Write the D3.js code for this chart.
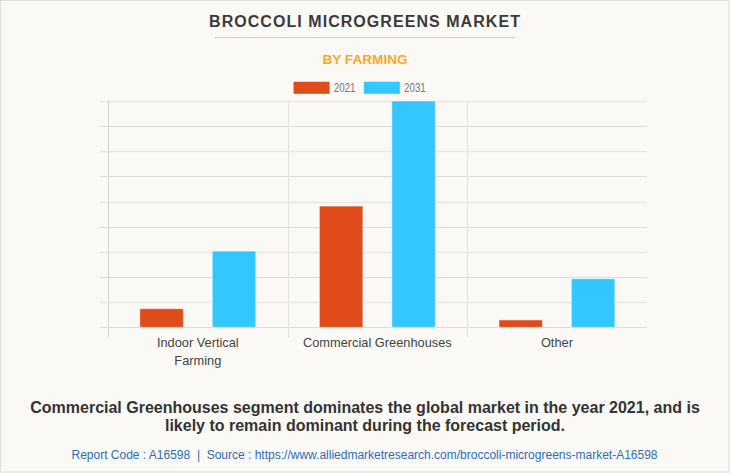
<!DOCTYPE html>
<html>
<head>
<meta charset="utf-8">
<script src="https://cdn.jsdelivr.net/npm/d3@7"></script>
<style>
  html, body { margin: 0; padding: 0; background: #faf9f5; }
  svg { display: block; }
</style>
</head>
<body>
<svg id="chart" width="730" height="473"></svg>
<script>
// ---- data ----
const categories = [["Indoor Vertical", "Farming"], ["Commercial Greenhouses"], ["Other"]];
const categoryKeys = ["Indoor Vertical Farming", "Commercial Greenhouses", "Other"];
const seriesNames = ["2021", "2031"];
const values2021 = [7.4, 48.2, 2.9];
const values2031 = [30.3, 90.0, 19.3];
const yTicks = [0, 10, 20, 30, 40, 50, 60, 70, 80, 90];
const seriesColors = ["#e04b1b", "#33c6ff"];

const titleText = "BROCCOLI MICROGREENS MARKET";
const subtitleText = "BY FARMING";
const footLines = ["Commercial Greenhouses segment dominates the global market in the year 2021, and is",
                   "likely to remain dominant during the forecast period."];
const sourceText = "Report Code : A16598  |  Source : https://www.alliedmarketresearch.com/broccoli-microgreens-market-A16598";

const W = 730, H = 473;
const svg = d3.select("#chart");
const font = "'Liberation Sans', Arial, sans-serif";

// background + border
svg.append("rect").attr("x", 0.5).attr("y", 0.5).attr("width", W - 1.5).attr("height", H - 1.5)
  .attr("fill", "#faf9f5").attr("stroke", "#dedede").attr("stroke-width", 1);

// title
svg.append("text").attr("x", 365).attr("y", 26.7).attr("text-anchor", "middle")
  .attr("font-family", font).attr("font-weight", "bold").attr("font-size", 16)
  .attr("letter-spacing", 1.05).attr("fill", "#3a3a3a").text(titleText);
svg.append("line").attr("x1", 215).attr("x2", 515).attr("y1", 37.5).attr("y2", 37.5)
  .attr("stroke", "#cccccc").attr("stroke-width", 1);
svg.append("text").attr("x", 365).attr("y", 64).attr("text-anchor", "middle")
  .attr("font-family", font).attr("font-weight", "bold").attr("font-size", 13.6)
  .attr("fill", "#f9a825").text(subtitleText);

// legend
const legendX = [293.3, 363.6];
seriesNames.forEach((s, i) => {
  svg.append("rect").attr("x", legendX[i]).attr("y", 81.5).attr("width", 36.5).attr("height", 12.5)
    .attr("fill", seriesColors[i]).attr("stroke", "rgba(255,255,255,0.45)").attr("stroke-width", 1);
  svg.append("text").attr("x", legendX[i] + 40.5).attr("y", 91.8)
    .attr("font-family", font).attr("font-size", 12.5).attr("fill", "#777")
    .attr("textLength", 21.7).attr("lengthAdjust", "spacingAndGlyphs").text(s);
});

// scales
const plot = { left: 108, right: 646.7, top: 101, bottom: 327.3 };
const x0 = d3.scaleBand().domain(categoryKeys).range([plot.left, plot.right]).padding(0);
const x1 = d3.scaleBand().domain(seriesNames).range([0, x0.bandwidth()])
  .paddingInner(0.4).paddingOuter(0.44);
const y = d3.scaleLinear().domain([0, 90]).range([plot.bottom, plot.top]);

// gridlines
const g = svg.append("g");
g.selectAll("line.grid").data(yTicks).join("line").attr("class", "grid")
  .attr("x1", plot.left - 8).attr("x2", plot.right)
  .attr("y1", d => Math.round(y(d)) + 0.5).attr("y2", d => Math.round(y(d)) + 0.5)
  .attr("stroke", (d, i) => i % 2 === 1 ? "#e9e8e4" : "#dcdcdc")
  .attr("stroke-width", (d, i) => i % 2 === 1 ? 1.5 : 1);

// vertical category separators
const seps = categoryKeys.map(k => x0(k));
g.selectAll("line.sep").data(seps).join("line").attr("class", "sep")
  .attr("x1", d => Math.round(d) + 0.5).attr("x2", d => Math.round(d) + 0.5)
  .attr("y1", plot.top).attr("y2", plot.bottom + 10)
  .attr("stroke", (d, i) => i === 0 ? "#d4d4d4" : "#e2e2e0").attr("stroke-width", 1);

// bars
const rows = categoryKeys.map((k, i) => ({ key: k, vals: [values2021[i], values2031[i]] }));
const barG = svg.append("g");
rows.forEach(r => {
  r.vals.forEach((v, j) => {
    barG.append("rect")
      .attr("x", x0(r.key) + x1(seriesNames[j]))
      .attr("y", y(v))
      .attr("width", x1.bandwidth())
      .attr("height", y(0) - y(v))
      .attr("fill", seriesColors[j])
      .attr("stroke", "rgba(255,255,255,0.45)").attr("stroke-width", 1);
  });
});

// category labels
categoryKeys.forEach((k, i) => {
  const t = svg.append("text").attr("text-anchor", "middle")
    .attr("font-family", font).attr("font-size", 12.8).attr("fill", "#444");
  categories[i].forEach((line, li) => {
    t.append("tspan").attr("x", x0(k) + x0.bandwidth() / 2).attr("y", 346.5 + li * 18).text(line);
  });
});

// footer
footLines.forEach((l, i) => {
  svg.append("text").attr("x", 365).attr("y", 412.5 + i * 18.5).attr("text-anchor", "middle")
    .attr("font-family", font).attr("font-weight", "bold").attr("font-size", 16)
    .attr("fill", "#333").text(l);
});
svg.append("text").attr("x", 364.5).attr("y", 458.5).attr("text-anchor", "middle")
  .attr("font-family", font).attr("font-size", 12).attr("fill", "#2f6db5")
  .attr("xml:space", "preserve").style("white-space", "pre").text(sourceText);
</script>
</body>
</html>
